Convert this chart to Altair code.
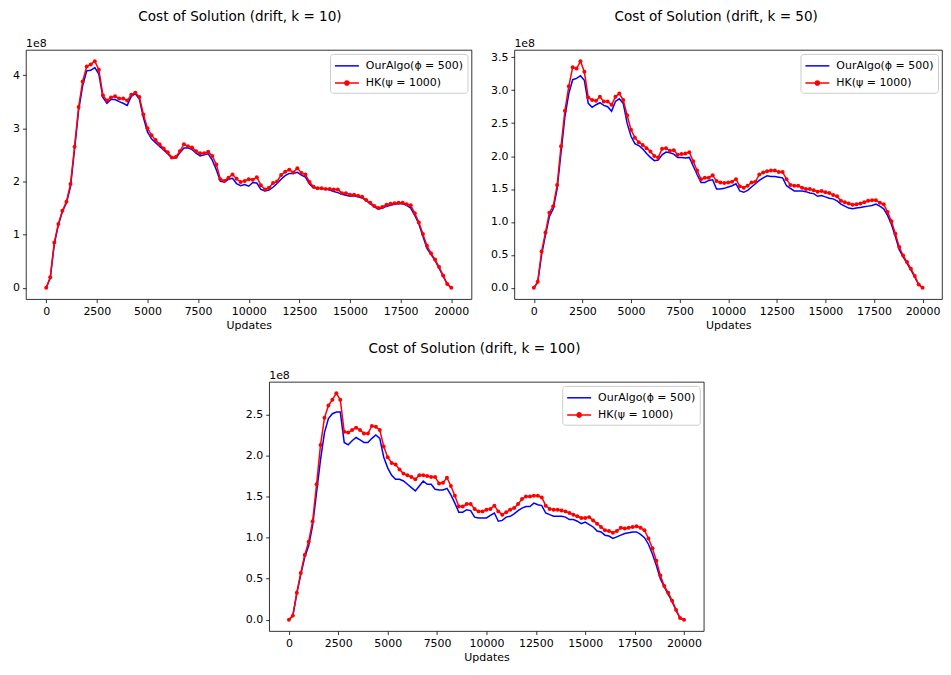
import altair as alt
import pandas as pd

# x grid (Updates), every 200 updates
updates = list(range(0, 20001, 200))

# ---- k = 10 (values in units of 1e8) ----
k10_hk = [
    0, 0.2, 0.85, 1.2, 1.45, 1.62, 1.95, 2.65, 3.4, 3.88,
    4.16, 4.2, 4.26, 4.1, 3.62, 3.52, 3.58, 3.6, 3.56, 3.56,
    3.52, 3.63, 3.67, 3.59, 3.26, 3.0, 2.87, 2.78, 2.7, 2.62,
    2.55, 2.45, 2.46, 2.57, 2.7, 2.66, 2.64, 2.57, 2.53, 2.53,
    2.56, 2.48, 2.32, 2.04, 2.01, 2.07, 2.13, 2.05, 1.99, 2.01,
    2.04, 2.03, 2.08, 1.93, 1.85, 1.88, 1.97, 2.0, 2.12, 2.18,
    2.22, 2.17, 2.25, 2.16, 2.13, 1.99, 1.9, 1.87, 1.87, 1.86,
    1.86, 1.85, 1.85, 1.78, 1.78, 1.75, 1.75, 1.73, 1.71, 1.65,
    1.6, 1.54, 1.5, 1.52, 1.56, 1.58, 1.59, 1.6, 1.6, 1.57,
    1.55, 1.4, 1.23, 1.01, 0.79, 0.65, 0.53, 0.39, 0.23, 0.07,
    0,
]
k10_ours = [
    0, 0.18, 0.82, 1.18, 1.43, 1.6, 1.9, 2.6, 3.33, 3.8,
    4.08, 4.09, 4.14, 4.02, 3.58, 3.47, 3.54, 3.54, 3.5, 3.47,
    3.43, 3.6, 3.65, 3.55, 3.2, 2.93, 2.8, 2.73, 2.66, 2.59,
    2.52, 2.44, 2.44, 2.54, 2.63, 2.63, 2.6, 2.53, 2.48, 2.5,
    2.52, 2.4, 2.22, 2.0, 1.99, 2.04, 2.06, 1.96, 1.92, 1.94,
    1.91, 1.98, 1.97, 1.85, 1.82, 1.84, 1.89, 1.96, 2.04, 2.11,
    2.15, 2.15, 2.17, 2.12, 2.08, 1.95, 1.88, 1.87, 1.86, 1.86,
    1.84, 1.81, 1.79, 1.76, 1.74, 1.72, 1.73, 1.71, 1.69, 1.64,
    1.58, 1.52, 1.48, 1.5, 1.53, 1.55, 1.57, 1.58, 1.58, 1.55,
    1.5, 1.36, 1.2, 0.97, 0.74, 0.63, 0.51, 0.37, 0.22, 0.07,
    0,
]

# ---- k = 50 ----
k50_hk = [
    0, 0.09, 0.55, 0.84, 1.14, 1.24, 1.56, 2.15, 2.69, 3.06,
    3.35, 3.33, 3.44, 3.28, 2.89, 2.85, 2.84, 2.9, 2.83, 2.83,
    2.78, 2.9, 2.95, 2.85, 2.62, 2.4, 2.28, 2.21, 2.17, 2.12,
    2.07, 2.0, 1.98, 2.11, 2.12, 2.08, 2.09, 2.02, 2.03, 2.04,
    2.06, 1.92, 1.78, 1.65, 1.67, 1.67, 1.71, 1.62, 1.6, 1.59,
    1.6, 1.61, 1.65, 1.54, 1.52, 1.55, 1.6, 1.61, 1.72, 1.75,
    1.77, 1.78, 1.78, 1.76, 1.76, 1.65, 1.56, 1.55, 1.55, 1.52,
    1.5, 1.5, 1.48, 1.46, 1.47, 1.45, 1.44, 1.41, 1.39, 1.32,
    1.3, 1.28, 1.26, 1.27, 1.28, 1.3, 1.32, 1.33, 1.33, 1.29,
    1.27, 1.15, 1.01, 0.82, 0.62, 0.49, 0.39, 0.29, 0.18, 0.05,
    0,
]
k50_ours = [
    0, 0.08, 0.5, 0.8, 1.08, 1.2, 1.5, 2.05, 2.6, 2.95,
    3.16, 3.18, 3.22, 3.15, 2.8, 2.74, 2.78, 2.81, 2.77, 2.75,
    2.68, 2.83, 2.87, 2.8, 2.5, 2.3, 2.19, 2.16, 2.11, 2.04,
    1.98, 1.93, 1.94, 2.02, 2.06, 2.05, 2.03, 1.98, 1.98, 1.97,
    1.98, 1.85, 1.72, 1.6, 1.6, 1.63, 1.64, 1.5, 1.5, 1.51,
    1.53, 1.55, 1.58, 1.47, 1.45, 1.48, 1.53, 1.58, 1.63, 1.67,
    1.7, 1.69, 1.69, 1.68, 1.67, 1.55, 1.51, 1.47, 1.47, 1.47,
    1.46, 1.44, 1.43, 1.39, 1.4, 1.38, 1.36, 1.35, 1.32, 1.27,
    1.24, 1.21, 1.2, 1.21, 1.22, 1.23, 1.24, 1.25, 1.27, 1.24,
    1.2, 1.1, 0.96, 0.78, 0.58, 0.47, 0.37, 0.27, 0.16, 0.05,
    0,
]

# ---- k = 100 ----
k100_hk = [
    0, 0.05, 0.33, 0.57, 0.79, 0.95, 1.2, 1.65, 2.13, 2.46,
    2.61, 2.68, 2.76, 2.68, 2.29, 2.28, 2.31, 2.34, 2.31, 2.27,
    2.27, 2.36, 2.35, 2.31, 2.11, 1.98, 1.91, 1.89, 1.83, 1.78,
    1.76, 1.74, 1.71, 1.76, 1.76, 1.75, 1.74, 1.74, 1.66, 1.67,
    1.73, 1.63, 1.51, 1.38, 1.38, 1.41, 1.41, 1.35, 1.32, 1.32,
    1.34, 1.35, 1.39, 1.32, 1.28, 1.31, 1.34, 1.36, 1.41, 1.47,
    1.5, 1.5, 1.51, 1.51, 1.49, 1.39, 1.35, 1.34, 1.34, 1.33,
    1.32, 1.3, 1.28, 1.26, 1.24, 1.24, 1.25, 1.21, 1.17, 1.13,
    1.09, 1.08, 1.06, 1.08, 1.12, 1.11, 1.12, 1.13, 1.14, 1.12,
    1.09, 0.99, 0.87, 0.72, 0.54, 0.41, 0.33, 0.23, 0.12, 0.02,
    0,
]
k100_ours = [
    0, 0.05, 0.32, 0.55, 0.76, 0.9, 1.15, 1.55, 1.95, 2.28,
    2.45, 2.51, 2.53, 2.53, 2.16, 2.13, 2.18, 2.22, 2.19, 2.16,
    2.16, 2.21, 2.25, 2.21, 1.98, 1.85, 1.76, 1.71, 1.71, 1.69,
    1.65, 1.61, 1.57, 1.63, 1.69, 1.65, 1.65, 1.59, 1.58, 1.58,
    1.6, 1.52, 1.42, 1.31, 1.31, 1.34, 1.33, 1.25, 1.24, 1.24,
    1.24, 1.27, 1.3, 1.2, 1.21, 1.25, 1.26, 1.29, 1.33, 1.36,
    1.38, 1.38, 1.42, 1.4, 1.39, 1.3, 1.28, 1.26, 1.26, 1.26,
    1.25, 1.22, 1.22, 1.2, 1.17, 1.19, 1.16, 1.13, 1.08, 1.07,
    1.03, 1.02, 0.99, 1.01, 1.03, 1.05, 1.06, 1.07, 1.07, 1.04,
    1.0, 0.92, 0.8, 0.66, 0.5, 0.4, 0.31, 0.22, 0.11, 0.02,
    0,
]

LAB_OURS = "OurAlgo(ϕ = 500)"
LAB_HK = "HK(ψ = 1000)"
SERIES = [LAB_OURS, LAB_HK]
COLORS = ["#0000ff", "#ff0000"]
x_ticks = [0, 2500, 5000, 7500, 10000, 12500, 15000, 17500, 20000]
FONT = "DejaVu Sans"

# legend symbols: a plain line, and a line with a dot in the middle
PATH_LINE = "M-1.7,0L1.7,0"
PATH_DOT = ("M-1.7,0L1.7,0"
            "M-0.3,0A0.3,0.3,0,1,0,0.3,0A0.3,0.3,0,1,0,-0.3,0"
            "M-0.15,0A0.15,0.15,0,1,0,0.15,0A0.15,0.15,0,1,0,-0.15,0")


def panel(title, ours, hk, ydom, yticks, yfmt, width, height, extent):
    n = len(updates)
    df = pd.DataFrame({
        "Updates": updates + updates,
        "Cost": ours + hk,
        "Series": [LAB_OURS] * n + [LAB_HK] * n,
    })
    x = alt.X("Updates:Q",
              scale=alt.Scale(domain=[-1000, 21000], nice=False, zero=False),
              axis=alt.Axis(values=x_ticks, format="d", title="Updates"))
    y = alt.Y("Cost:Q",
              scale=alt.Scale(domain=ydom, nice=False, zero=False),
              axis=alt.Axis(values=yticks, format=yfmt, title=None,
                            minExtent=extent, maxExtent=extent))
    base = alt.Chart(df)
    line_ours = base.transform_filter(alt.datum.Series == LAB_OURS).mark_line(
        strokeWidth=1.5, color=COLORS[0]).encode(x=x, y=y)
    line_hk = base.transform_filter(alt.datum.Series == LAB_HK).mark_line(
        strokeWidth=1.5, color=COLORS[1]).encode(x=x, y=y)
    dots_hk = base.transform_filter(alt.datum.Series == LAB_HK).mark_circle(
        size=16, opacity=1, color=COLORS[1]).encode(x=x, y=y)

    leg = alt.Legend(title=None, orient="top-right", offset=4, padding=4,
                     symbolOffset=5, labelOffset=11, rowPadding=4.2, symbolSize=200,
                     symbolStrokeWidth=1.5, symbolOpacity=1,
                     strokeColor="#cccccc", fillColor="white", cornerRadius=3,
                     labelFontSize=11, labelFont=FONT, labelColor="black")
    legend_layer = base.mark_point(opacity=0).encode(
        x=x, y=y,
        fill=alt.Fill("Series:N", scale=alt.Scale(domain=SERIES, range=COLORS), legend=leg),
        stroke=alt.Stroke("Series:N", scale=alt.Scale(domain=SERIES, range=COLORS), legend=leg),
        shape=alt.Shape("Series:N", scale=alt.Scale(domain=SERIES, range=[PATH_LINE, PATH_DOT]), legend=leg),
    )
    offset_label = alt.Chart(pd.DataFrame({"t": ["1e8"]})).mark_text(
        align="left", baseline="alphabetic", fontSize=11, font=FONT, color="black"
    ).encode(text="t:N", x=alt.value(0), y=alt.value(-2.5))

    return alt.layer(line_ours, line_hk, dots_hk, legend_layer, offset_label).properties(
        width=width, height=height,
        title=alt.TitleParams(title, fontSize=13.6, font=FONT, fontWeight="normal",
                              color="black", anchor="middle", frame="bounds", offset=15),
    )


def indep(c):
    return c.resolve_scale(fill="independent", stroke="independent", shape="independent",
                           x="independent", y="independent").resolve_legend(
        fill="independent", stroke="independent", shape="independent")


p1 = panel("Cost of Solution (drift, k = 10)", k10_ours, k10_hk,
           [-0.213, 4.473], [0, 1, 2, 3, 4], "d", 447, 250, 17.5)
p2 = panel("Cost of Solution (drift, k = 50)", k50_ours, k50_hk,
           [-0.172, 3.612], [0, 0.5, 1, 1.5, 2, 2.5, 3, 3.5], ".1f", 429, 250, 24)
p3 = panel("Cost of Solution (drift, k = 100)", k100_ours, k100_hk,
           [-0.138, 2.898], [0, 0.5, 1, 1.5, 2, 2.5], ".1f", 436, 250, 24)

spacer = alt.Chart(pd.DataFrame({"a": [0]})).mark_point(opacity=0).encode(
    x=alt.value(0), y=alt.value(0)
).properties(width=218.5, height=10, view=alt.ViewBackground(stroke="transparent"))

top_row = indep(alt.hconcat(p1, p2, spacing=17))
bottom_row = indep(alt.hconcat(spacer, p3, spacing=0))

chart = indep(alt.vconcat(top_row, bottom_row, spacing=10)).properties(
    padding={"left": 0, "top": 0, "right": 0, "bottom": 0},
    background="white",
).configure_view(
    stroke="black", strokeWidth=0.8
).configure_axis(
    domain=False, grid=False, ticks=True, tickColor="black", tickSize=3.5,
    tickWidth=0.8, labelFontSize=11, labelFont=FONT, labelColor="black",
    labelPadding=3, titleFont=FONT, titleFontSize=11, titleFontWeight="normal",
    titleColor="black", titlePadding=3,
)

chart.save("out.html", embed_options={"renderer": "svg", "actions": False})
